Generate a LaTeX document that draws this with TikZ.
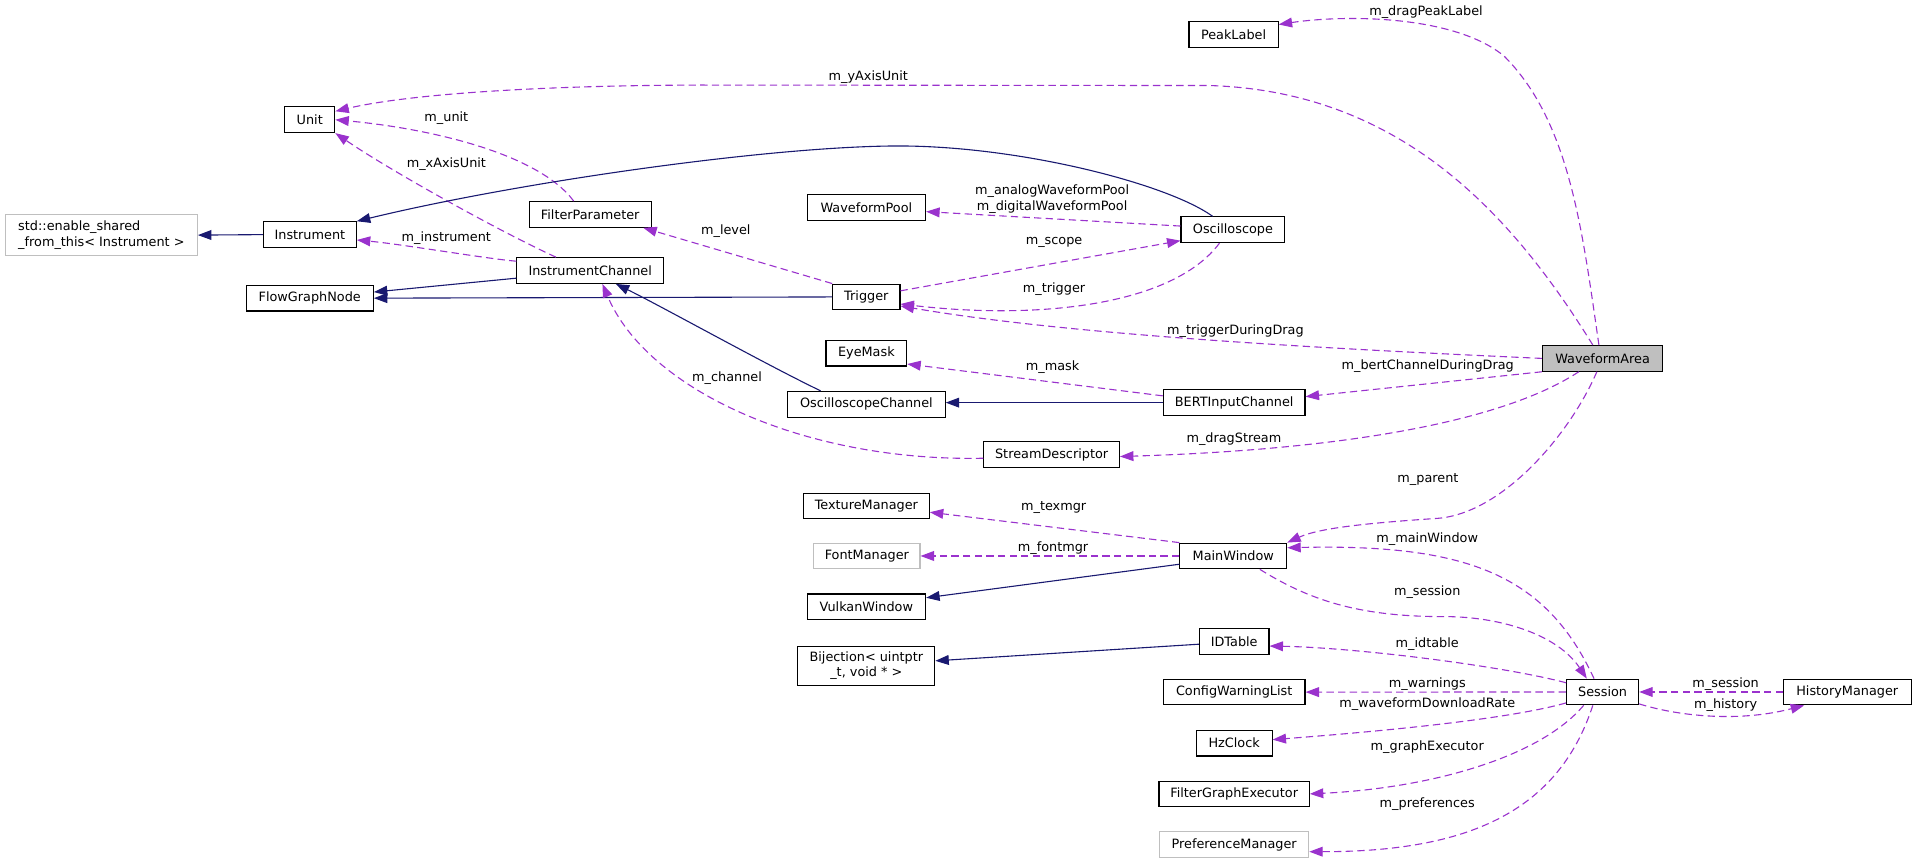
\documentclass[tikz,border=0pt]{standalone}
\usepackage{fontspec}
\setmainfont{DejaVu Sans}
\usetikzlibrary{arrows.meta,calc}
\definecolor{usecol}{HTML}{9A32CD}
\definecolor{inhcol}{HTML}{191970}
\definecolor{gborder}{HTML}{BFBFBF}
\definecolor{curfill}{HTML}{BFBFBF}
\newcommand\nfont{\fontsize{10.5}{12.4}\selectfont}
\begin{document}
\begin{tikzpicture}[x=1pt,y=-1pt,
  box/.style={draw=black, line width=0.9pt, fill=white, minimum height=21, inner sep=0pt, font=\nfont},
  gbox/.style={box, draw=gborder},
  cur/.style={box, fill=curfill},
  uses/.style={draw=usecol, line width=0.9pt, dash pattern=on 6pt off 3.5pt, -{Triangle[length=11pt,width=8pt]}},
  inh/.style={draw=inhcol, line width=0.9pt, -{Triangle[length=11pt,width=8pt]}},
  lbl/.style={font=\nfont, inner sep=0pt}]
\useasboundingbox (0,0) rectangle (1568,706.2);

% nodes
\node[box, minimum width=73] (pl) at (1009.5,28.2) {PeakLabel};
\node[box, minimum width=41] (unit) at (253.5,98) {Unit};
\node[gbox, minimum width=157, minimum height=33, align=left] (std) at (83,192.4) {std::enable\_shared\\\_from\_this< Instrument >};
\node[box, minimum width=76] (inst) at (253.6,192) {Instrument};
\node[box, minimum width=104] (fgn) at (253.5,244) {FlowGraphNode};
\node[box, minimum width=100] (fp) at (483,175.5) {FilterParameter};
\node[box, minimum width=120] (ic) at (483,221.4) {InstrumentChannel};
\node[box, minimum width=97] (wp) at (709,170) {WaveformPool};
\node[box, minimum width=85] (osc) at (1009,188) {Oscilloscope};
\node[box, minimum width=55] (trig) at (709,243) {Trigger};
\node[box, minimum width=66] (em) at (709,289) {EyeMask};
\node[box, minimum width=129] (oc) at (709,330.8) {OscilloscopeChannel};
\node[box, minimum width=116] (bert) at (1010,329.5) {BERTInputChannel};
\node[box, minimum width=111] (sd) at (860.6,372) {StreamDescriptor};
\node[cur, minimum width=98.5] (wa) at (1311.5,293.3) {WaveformArea};
\node[box, minimum width=103] (tm) at (709,414) {TextureManager};
\node[gbox, minimum width=87] (fm) at (709.4,455) {FontManager};
\node[box, minimum width=87.4] (mw) at (1009.3,455) {MainWindow};
\node[box, minimum width=97] (vw) at (709,496.6) {VulkanWindow};
\node[box, minimum width=112, minimum height=32.4, align=center] (bij) at (709,545) {Bijection< uintptr\\\_t, void * >};
\node[box, minimum width=57] (idt) at (1010,525.2) {IDTable};
\node[box, minimum width=116] (cwl) at (1010,566.4) {ConfigWarningList};
\node[box, minimum width=62] (hz) at (1010,608.2) {HzClock};
\node[box, minimum width=123] (fge) at (1010,649.7) {FilterGraphExecutor};
\node[gbox, minimum width=122] (pm) at (1010,691.3) {PreferenceManager};
\node[box, minimum width=59] (ses) at (1311.5,566.3) {Session};
\node[box, minimum width=104.5] (hm) at (1511.7,566.3) {HistoryManager};

% connectors
\draw[uses] ($(wa.north)+(-3,0)$) .. controls (1295,190) and (1285,100) .. (1231,46) .. controls (1190,12) and (1100,12) .. ($(pl.north east)+(0,2.8)$);
\draw[uses] ($(wa.north)+(-8,0)$) .. controls (1240,180) and (1150,75) .. (990,70) -- (573,69.6) .. controls (430,70) and (330,78) .. ($(unit.north east)+(0,4)$);
\draw[uses] ($(fp.north)+(-13.5,0)$) .. controls (440,125) and (350,105) .. (unit.east);
\draw[uses] ($(ic.north)+(-28,0)$) .. controls (410,190) and (320,140) .. (unit.south east);
\draw[inh] ($(osc.north)+(-16.6,0)$) .. controls (955,150) and (830,118) .. (728,119.5) .. controls (620,121) and (420,150) .. (inst.north east);
\draw[inh] (inst.west) -- (std.east);
\draw[uses] ($(ic.north west)+(0,3.3)$) .. controls (400,212) and (330,200) .. ($(inst.east)+(0,4.4)$);
\draw[inh] ($(ic.south west)+(0,-4.7)$) -- ($(fgn.east)+(0,-5)$);
\draw[inh] (trig.west) -- (fgn.east);
\draw[uses] (trig.north west) -- ($(fp.south east)+(-7,0)$);
\draw[uses] ($(osc.west)+(0,-3)$) -- ($(wp.east)+(0,3.2)$);
\draw[uses] ($(trig.east)+(0,-5)$) -- ($(osc.south west)+(0,-2)$);
\draw[uses] ($(osc.south)+(-11,0)$) .. controls (960,250) and (850,262) .. ($(trig.east)+(0,5.8)$);
\draw[uses] (wa.west) .. controls (1100,286) and (880,275) .. ($(trig.east)+(0,7.4)$);
\draw[inh] ($(oc.north)+(-37.4,0)$) .. controls (630,300) and (540,250) .. ($(ic.south)+(21,0)$);
\draw[uses] ($(sd.west)+(0,3)$) .. controls (660,378) and (530,320) .. ($(ic.south)+(10,0)$);
\draw[uses] ($(bert.north west)+(0,5.4)$) -- ($(em.east)+(0,8.9)$);
\draw[inh] (bert.west) -- (bert.west -| oc.east);
\draw[uses] (wa.south west) -- ($(bert.east)+(0,-4.9)$);
\draw[uses] ($(wa.south)+(-19.5,0)$) .. controls (1230,345) and (1100,368) .. ($(sd.east)+(0,1.6)$);
\draw[uses] ($(wa.south)+(-4.7,0)$) .. controls (1285,355) and (1230,420) .. (1176.5,424.2) .. controls (1120,428) and (1080,432) .. (mw.north east);
\draw[uses] (mw.north west) -- ($(tm.east)+(0,5.2)$);
\draw[uses] (mw.west) -- (fm.east);
\draw[inh] ($(mw.south west)+(0,-4.2)$) -- ($(vw.east)+(0,-7.4)$);
\draw[uses] ($(ses.north)+(-7,0)$) .. controls (1265,470) and (1200,445) .. ($(mw.north east)+(0,4.2)$);
\draw[uses] ($(mw.south)+(21.7,0)$) .. controls (1070,490) and (1110,505) .. (1183.7,504.6) .. controls (1230,505) and (1275,520) .. ($(ses.north)+(-12.9,0)$);
\draw[inh] ($(idt.west)+(0,2)$) -- ($(bij.east)+(0,-4.2)$);
\draw[uses] ($(ses.north west)+(0,3.4)$) .. controls (1230,545) and (1110,530) .. ($(idt.east)+(0,3.5)$);
\draw[uses] (ses.west) -- (cwl.east);
\draw[uses] ($(ses.south west)+(0,-2)$) .. controls (1230,590) and (1110,600) .. ($(hz.east)+(0,-2.9)$);
\draw[uses] ($(ses.south)+(-15.5,0)$) .. controls (1260,620) and (1170,645) .. (fge.east);
\draw[uses] ($(ses.south)+(-8,0)$) .. controls (1275,665) and (1200,697) .. ($(pm.east)+(0,5.7)$);
\draw[uses] (hm.west) -- (ses.east);
\draw[uses] ($(ses.south east)+(0,-1.2)$) .. controls (1370,585) and (1420,592) .. ($(hm.south west)+(17.5,0)$);

% labels
\node[lbl] (l1) at (1167,9.6) {m\_dragPeakLabel};
\node[lbl] (l2) at (710.6,62.8) {m\_yAxisUnit};
\node[lbl] (l3) at (365.3,96.8) {m\_unit};
\node[lbl] (l4) at (365.3,134.5) {m\_xAxisUnit};
\node[lbl] (l5) at (365.3,195) {m\_instrument};
\node[lbl, align=center] (l6) at (861,163) {m\_analogWaveformPool\\m\_digitalWaveformPool};
\node[lbl] (l7) at (594,189) {m\_level};
\node[lbl] (l8) at (862.6,198.6) {m\_scope};
\node[lbl] (l9) at (862.6,236.3) {m\_trigger};
\node[lbl] (l10) at (1011,271.4) {m\_triggerDuringDrag};
\node[lbl] (l11) at (1168.4,300) {m\_bertChannelDuringDrag};
\node[lbl] (l12) at (861.4,300.3) {m\_mask};
\node[lbl] (l13) at (595,309.7) {m\_channel};
\node[lbl] (l14) at (1009.8,359.1) {m\_dragStream};
\node[lbl] (l15) at (1168.6,392.8) {m\_parent};
\node[lbl] (l16) at (862.3,415.1) {m\_texmgr};
\node[lbl] (l17) at (861.8,448.7) {m\_fontmgr};
\node[lbl] (l18) at (1168,441.3) {m\_mainWindow};
\node[lbl] (l19) at (1168,484.6) {m\_session};
\node[lbl] (l20) at (1168,527.2) {m\_idtable};
\node[lbl] (l21) at (1168,560) {m\_warnings};
\node[lbl] (l22) at (1168,576.4) {m\_waveformDownloadRate};
\node[lbl] (l23) at (1168,611.8) {m\_graphExecutor};
\node[lbl] (l24) at (1168,657.7) {m\_preferences};
\node[lbl] (l25) at (1412.2,559.8) {m\_session};
\node[lbl] (l26) at (1412.2,577) {m\_history};
\end{tikzpicture}
\end{document}
